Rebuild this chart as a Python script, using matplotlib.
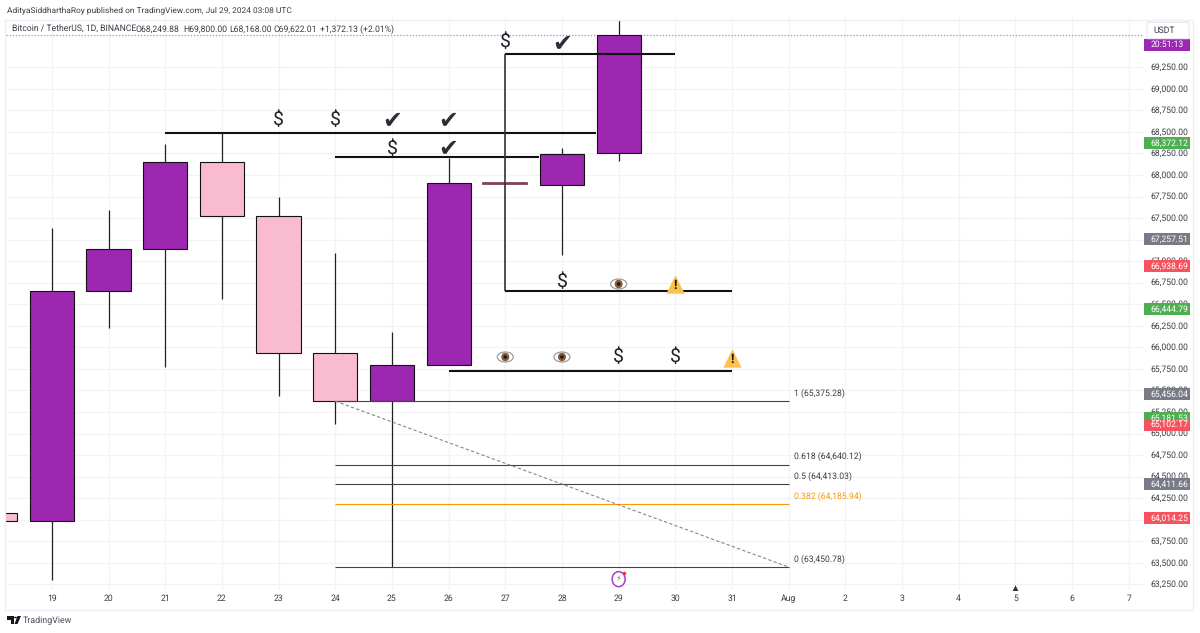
import matplotlib
matplotlib.use("Agg")
import matplotlib.pyplot as plt
from matplotlib.patches import Rectangle, Ellipse, FancyBboxPatch, Polygon, Circle

plt.rcParams['font.family'] = ['Roboto', 'DejaVu Sans']
plt.rcParams['text.hinting'] = 'no_hinting'

# candles: day number (Aug 1 = 32)
days = [18, 19, 20, 21, 22, 23, 24, 25, 26, 27, 28, 29]
opens = [64082, 63984, 66654, 67141, 68151, 67524, 65934, 65375, 65795, 67907, 67884, 68249.88]
closes = [63984, 66654, 67141, 68151, 67524, 65934, 65375, 65795, 67907, 67890, 68243, 69622.01]
highs = [64082, 67385, 67594, 68360, 68487, 67745, 67094, 66178, 68197, 67907, 68313, 69800]
lows = [63984, 63300, 66226, 65772, 66560, 65435, 65111, 63450, 65795, 67890, 67071, 68168]

# drawn levels: start day, end day, price
level_start = [21, 24, 27, 27, 26]
level_end = [28.6, 27.6, 30, 31, 31]
level_price = [68487, 68210, 69404, 66654, 65725]

# fib levels
fib_labels = ['1 (65,375.28)', '0.618 (64,640.12)', '0.5 (64,413.03)', '0.382 (64,185.94)', '0 (63,450.78)']
fib_prices = [65375.28, 64640.12, 64413.03, 64185.94, 63450.78]
fib_colors = ['#444444', '#444444', '#444444', '#ff9800', '#444444']

# icons on the chart
dollar_days = [23, 24, 25, 27, 28, 29, 30]
dollar_prices = [68638, 68638, 68301, 69544, 66758, 65888, 65888]
check_days = [25, 26, 26, 28]
check_prices = [68625, 68625, 68301, 69520]
eye_days = [29, 27, 28]
eye_prices = [66735, 65888, 65888]
warn_days = [30, 31]
warn_prices = [66735, 65880]

# price axis
price_ticks = list(range(63250, 69251, 250))
badge_prices = [69510, 68372.12, 67257.51, 66938.69, 66444.79, 65456.04, 65181.53, 65102.17, 64411.66, 64014.25]
badge_labels = ['20:51:13', '68,372.12', '67,257.51', '66,938.69', '66,444.79', '65,456.04', '65,181.53', '65,102.17', '64,411.66', '64,014.25']
badge_colors = ['#9c27b0', '#4caf50', '#787b86', '#f7525f', '#4caf50', '#787b86', '#4caf50', '#f7525f', '#787b86', '#f7525f']

# time axis
time_ticks = list(range(19, 39))
time_labels = ['19', '20', '21', '22', '23', '24', '25', '26', '27', '28', '29', '30', '31', 'Aug', '2', '3', '4', '5', '6', '7']

PURPLE = '#9c27b0'
PINK = '#f8bbd0'
TEXT = '#3a3d46'
GRID = '#f2f3f6'
FS = 6.2

fig = plt.figure(figsize=(12, 6.33), dpi=100, facecolor='white')


def fx(x):
    return x / 1200


def fy(y):
    return 1 - y / 633


# the pane runs x 6..1144, y 18..590 in pixels
ax = fig.add_axes([fx(6), fy(590), fx(1138), 572 / 633])
ax.set_xlim(18.19, 38.27)
ax.set_ylim(63184, 69822)
ax.axis('off')

# frame round the chart
fig.add_artist(Rectangle((fx(5), fy(610)), fx(1188), 590 / 633, fill=False, ec='#eceef2', lw=1))

for p in price_ticks:
    ax.axhline(p, color=GRID, lw=0.9, zorder=0)
    ax.text(1.0055, p, f'{p:,.2f}', transform=ax.get_yaxis_transform(), clip_on=False,
            fontsize=FS, color=TEXT, va='center', ha='left')
for d in time_ticks:
    ax.axvline(d, color=GRID, lw=0.9, zorder=0)
for d, lab in zip(time_ticks, time_labels):
    ax.text(d, -0.0145, lab, transform=ax.get_xaxis_transform(), clip_on=False,
            fontsize=FS, color=TEXT, va='center', ha='center')

# current price line
ax.axhline(closes[-1], color='#cf6fe0', lw=0.9, ls=(0, (1, 1.5)), zorder=1)

# candles
for d, o, c, h, l in zip(days, opens, closes, highs, lows):
    doji = abs(c - o) < 50
    ax.vlines(d, l, h, color='#222222', lw=0.9, zorder=2)
    ax.bar(d, abs(c - o), bottom=min(o, c), width=0.78, color=PURPLE if c >= o else PINK,
           edgecolor='#7d4455' if doji else '#111111', linewidth=1.3 if doji else 0.8, zorder=3)

# levels and the vertical from the 27th
ax.hlines(level_price, level_start, level_end, color='#111111', lw=1.5, zorder=4)
ax.vlines(27, level_price[3], level_price[2], color='#333333', lw=1.2, zorder=4)

# fib retracement
for lab, p, col in zip(fib_labels, fib_prices, fib_colors):
    ax.hlines(p, 24, 32, color=col, lw=0.8, zorder=4)
    ax.text(32.09, p + 90, lab, color='#ff9800' if col == '#ff9800' else TEXT, fontsize=FS, va='center', ha='left')
ax.plot([24, 32], [fib_prices[0], fib_prices[4]], color='#888888', lw=0.8, ls=(0, (3, 2)), zorder=4)

# icons
for d, p in zip(dollar_days, dollar_prices):
    ax.text(d, p, '$', fontsize=14, color='#1f2229', ha='center', va='center', zorder=6)
for d, p in zip(check_days, check_prices):
    ax.text(d, p, '✔', fontsize=17, color='#2a2e39', ha='center', va='center', zorder=6,
            family='DejaVu Sans')
for d, p in zip(eye_days, eye_prices):
    ax.add_patch(Ellipse((d, p), 16 / 56.67, 10 * 11.6, fc='white', ec='#9a9ca3', lw=0.9, zorder=6))
    ax.add_patch(Ellipse((d, p), 8 / 56.67, 8.5 * 11.6, fc='#8a5a34', ec='none', zorder=7))
    ax.add_patch(Ellipse((d, p), 3.5 / 56.67, 3.5 * 11.6, fc='#1a1a1a', ec='none', zorder=8))
for d, p in zip(warn_days, warn_prices):
    ax.scatter([d], [p], marker='^', s=175, color='#fdc24e', linewidths=0, zorder=6)
    ax.text(d, p - 18, '!', fontsize=9, fontweight='bold', color='#111111', ha='center', va='center', zorder=7)

# price badges
for p, lab, col in zip(badge_prices, badge_labels, badge_colors):
    ax.add_patch(Rectangle((1.0, p - 70), 46 / 1138, 140, transform=ax.get_yaxis_transform(),
                           fc=col, ec='none', clip_on=False, zorder=9))
    ax.text(1.0055, p, lab, transform=ax.get_yaxis_transform(), clip_on=False, color='white',
            fontsize=FS, va='center', ha='left', zorder=10)

# USDT box
fig.add_artist(FancyBboxPatch((fx(1148), fy(38)), fx(40), 15 / 633, boxstyle='round,pad=0.001',
                              fc='white', ec='#e6e8ee', lw=0.9, zorder=5))
fig.text(fx(1153), fy(30.5), 'USDT', fontsize=FS, color=TEXT, va='center', ha='left', zorder=6)

# header texts
fig.text(fx(7), fy(12.5), 'AdityaSiddharthaRoy published on TradingView.com, Jul 29, 2024 03:08 UTC',
         fontsize=6.0, color=TEXT, va='baseline', ha='left')
head_x = [12, 136, 183, 229, 274, 320]
head_txt = ['Bitcoin / TetherUS, 1D, BINANCE', 'O68,249.88', 'H69,800.00', 'L68,168.00', 'C69,622.01', '+1,372.13 (+2.01%)']
for x, t in zip(head_x, head_txt):
    fig.text(fx(x), fy(31.5), t, fontsize=FS, color=TEXT, va='baseline', ha='left')

# lightning marker on the 29th
ax.add_patch(Ellipse((29, 63310), 13 / 56.67, 15 * 11.6, fc='white', ec='#a63fc4', lw=1.1, zorder=6))
ax.text(29, 63310, '⚡', fontsize=6, color='#a63fc4', family='DejaVu Sans', ha='center', va='center', zorder=7)
ax.scatter([29.1], [63385], s=7, color='#f23645', linewidths=0, zorder=8)

# small event triangle on the 5th
ax.scatter([36], [63205], marker='^', s=22, color='#333333', linewidths=0, zorder=6)

# footer logo and name
fig.add_artist(Polygon([(fx(7), fy(616)), (fx(14), fy(616)), (fx(14), fy(624)), (fx(11), fy(624)),
                        (fx(11), fy(619.5)), (fx(7), fy(619.5))], fc='#131722', ec='none'))
fig.add_artist(Polygon([(fx(17.5), fy(616)), (fx(21), fy(616)), (fx(17.5), fy(624)), (fx(14.5), fy(624))],
                       fc='#131722', ec='none'))
fig.add_artist(Circle((fx(15.5), fy(617.5)), 0.0012, fc='#131722', ec='none'))
fig.text(fx(23), fy(620.5), 'TradingView', fontsize=6.4, color='#4a4d57', va='center', ha='left')

fig.savefig('out.png', dpi=100, facecolor='white')
